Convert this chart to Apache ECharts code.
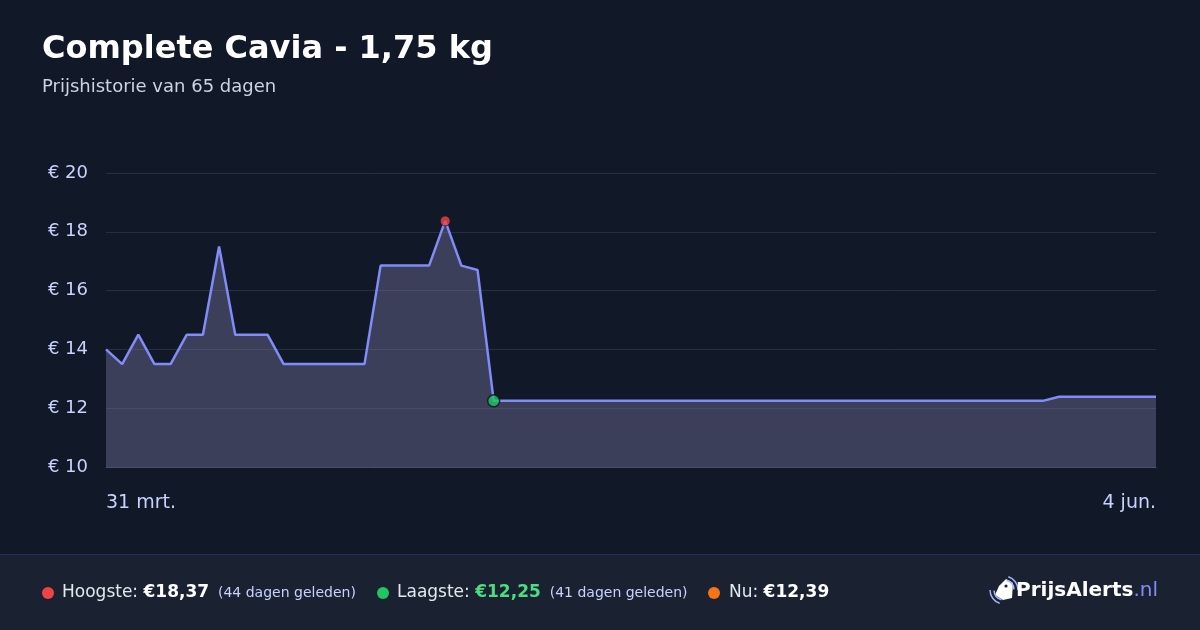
<!DOCTYPE html>
<html>
<head>
<meta charset="utf-8">
<script src="https://cdn.jsdelivr.net/npm/echarts@6/dist/echarts.min.js"></script>
<style>
html,body{margin:0;padding:0;background:#111827;}
#c{width:1200px;height:630px;}
</style>
</head>
<body>
<div id="c"></div>
<script>
const dates = ["31 mrt.","1 apr.","2 apr.","3 apr.","4 apr.","5 apr.","6 apr.","7 apr.","8 apr.","9 apr.","10 apr.","11 apr.","12 apr.","13 apr.","14 apr.","15 apr.","16 apr.","17 apr.","18 apr.","19 apr.","20 apr.","21 apr.","22 apr.","23 apr.","24 apr.","25 apr.","26 apr.","27 apr.","28 apr.","29 apr.","30 apr.","1 mei","2 mei","3 mei","4 mei","5 mei","6 mei","7 mei","8 mei","9 mei","10 mei","11 mei","12 mei","13 mei","14 mei","15 mei","16 mei","17 mei","18 mei","19 mei","20 mei","21 mei","22 mei","23 mei","24 mei","25 mei","26 mei","27 mei","28 mei","29 mei","30 mei","31 mei","1 jun.","2 jun.","3 jun.","4 jun."];
const prices = [14.0,13.5,14.5,13.5,13.5,14.5,14.5,17.5,14.5,14.5,14.5,
  13.5,13.5,13.5,13.5,13.5,13.5,
  16.85,16.85,16.85,16.85,18.37,16.85,16.7,
  12.25,12.25,12.25,12.25,12.25,12.25,12.25,12.25,12.25,12.25,12.25,12.25,12.25,12.25,12.25,12.25,12.25,12.25,12.25,12.25,12.25,12.25,12.25,12.25,12.25,12.25,12.25,12.25,12.25,12.25,12.25,12.25,12.25,12.25,12.25,
  12.39,12.39,12.39,12.39,12.39,12.39,12.39];
const yTicks = [10,12,14,16,18,20];
const highIdx = 21, lowIdx = 24;
const title = "Complete Cavia - 1,75 kg";
const subtitle = "Prijshistorie van 65 dagen";

const chart = echarts.init(document.getElementById('c'), null, {renderer:'canvas'});
const F = 'DejaVu Sans';
const lastIdx = dates.length - 1;
chart.setOption({
  backgroundColor: '#111827',
  animation: false,
  textStyle: {fontFamily: F},
  grid: {left:106, right:44, top:173, bottom:163, containLabel:false},
  xAxis: {
    type:'category', data:dates, boundaryGap:false,
    axisLine:{show:true, lineStyle:{color:'#4b5068', width:1}},
    axisTick:{show:false},
    axisLabel:{
      color:'#c7d2fe', fontSize:19, fontFamily:F, margin:27,
      interval:(i)=> i===0 || i===lastIdx,
      alignMinLabel:'left', alignMaxLabel:'right',
      showMinLabel:true, showMaxLabel:true
    },
    splitLine:{show:false}
  },
  yAxis: {
    type:'value', min:yTicks[0], max:yTicks[yTicks.length-1], interval:2,
    axisLine:{show:false}, axisTick:{show:false},
    axisLabel:{color:'#c7d2fe', fontSize:18, fontFamily:F, margin:18, formatter:(v)=>'€ '+v},
    splitLine:{lineStyle:{color:'#263041', width:1}}
  },
  series: [
    {
      type:'line', data:prices, symbol:'none', smooth:false,
      lineStyle:{color:'#818cf8', width:2.5},
      areaStyle:{color:'rgba(122,122,167,0.4)', opacity:1},
      z:2
    },
    {
      type:'scatter', data:[[highIdx, prices[highIdx]]], symbolSize:10,
      itemStyle:{color:'#ef4444', borderColor:'#111827', borderWidth:1},
      z:5
    },
    {
      type:'scatter', data:[[lowIdx, prices[lowIdx]]], symbolSize:12,
      itemStyle:{color:'#22c55e', borderColor:'#0b1220', borderWidth:1.5},
      z:5
    }
  ],
  graphic: [
    {type:'text', left:42, top:34, style:{text:title, font:'bold 32px "DejaVu Sans"', fill:'#ffffff'}},
    {type:'text', left:42, top:78, style:{text:subtitle, font:'18px "DejaVu Sans"', fill:'#cbd5e1'}},
    {type:'rect', shape:{x:0, y:554, width:1200, height:76}, style:{fill:'#1a2232'}},
    {type:'rect', shape:{x:0, y:554, width:1200, height:1}, style:{fill:'#26315a'}},
    {type:'circle', shape:{cx:48, cy:593, r:6}, style:{fill:'#ef4444'}},
    {type:'text', x:62, y:593, style:{
      text:'{l|Hoogste: }{v|€18,37}{s|  (44 dagen geleden)}', verticalAlign:'middle',
      rich:{l:{font:'17px "DejaVu Sans"', fill:'#e2e8f0'}, v:{font:'bold 17px "DejaVu Sans"', fill:'#ffffff'}, s:{font:'14px "DejaVu Sans"', fill:'#c7d2fe'}}
    }},
    {type:'circle', shape:{cx:383, cy:593, r:6}, style:{fill:'#22c55e'}},
    {type:'text', x:397, y:593, style:{
      text:'{l|Laagste: }{v|€12,25}{s|  (41 dagen geleden)}', verticalAlign:'middle',
      rich:{l:{font:'17px "DejaVu Sans"', fill:'#e2e8f0'}, v:{font:'bold 17px "DejaVu Sans"', fill:'#4ade80'}, s:{font:'14px "DejaVu Sans"', fill:'#c7d2fe'}}
    }},
    {type:'circle', shape:{cx:714, cy:593, r:6}, style:{fill:'#f97316'}},
    {type:'text', x:729, y:593, style:{
      text:'{l|Nu: }{v|€12,39}', verticalAlign:'middle',
      rich:{l:{font:'17px "DejaVu Sans"', fill:'#e2e8f0'}, v:{font:'bold 17px "DejaVu Sans"', fill:'#ffffff'}}
    }},
    // logo icon: tilted tag with signal waves
    {type:'polygon', shape:{points:[[999,586],[1006,579],[1013,583],[1012,598],[1003,600],[995,595]]}, style:{fill:'#ffffff'}},
    {type:'circle', shape:{cx:1006, cy:586, r:1.6}, style:{fill:'#1a2232'}},
    {type:'arc', shape:{cx:1004, cy:590, r:10, startAngle:-Math.PI*0.42, endAngle:-Math.PI*0.02}, style:{stroke:'#a5b4fc', lineWidth:1.5, fill:null}},
    {type:'arc', shape:{cx:1004, cy:590, r:14, startAngle:-Math.PI*0.40, endAngle:Math.PI*0.0}, style:{stroke:'#a5b4fc', lineWidth:1.5, fill:null}},
    {type:'arc', shape:{cx:1004, cy:590, r:10, startAngle:Math.PI*0.58, endAngle:Math.PI*0.98}, style:{stroke:'#a5b4fc', lineWidth:1.5, fill:null}},
    {type:'arc', shape:{cx:1004, cy:590, r:14, startAngle:Math.PI*0.6, endAngle:Math.PI*1.0}, style:{stroke:'#a5b4fc', lineWidth:1.5, fill:null}},
    {type:'text', right:42, top:581, style:{
      text:'{b|PrijsAlerts}{n|.nl}',
      rich:{b:{font:'bold 20px "DejaVu Sans"', fill:'#ffffff'}, n:{font:'20px "DejaVu Sans"', fill:'#818cf8'}}
    }}
  ]
});
</script>
</body>
</html>
